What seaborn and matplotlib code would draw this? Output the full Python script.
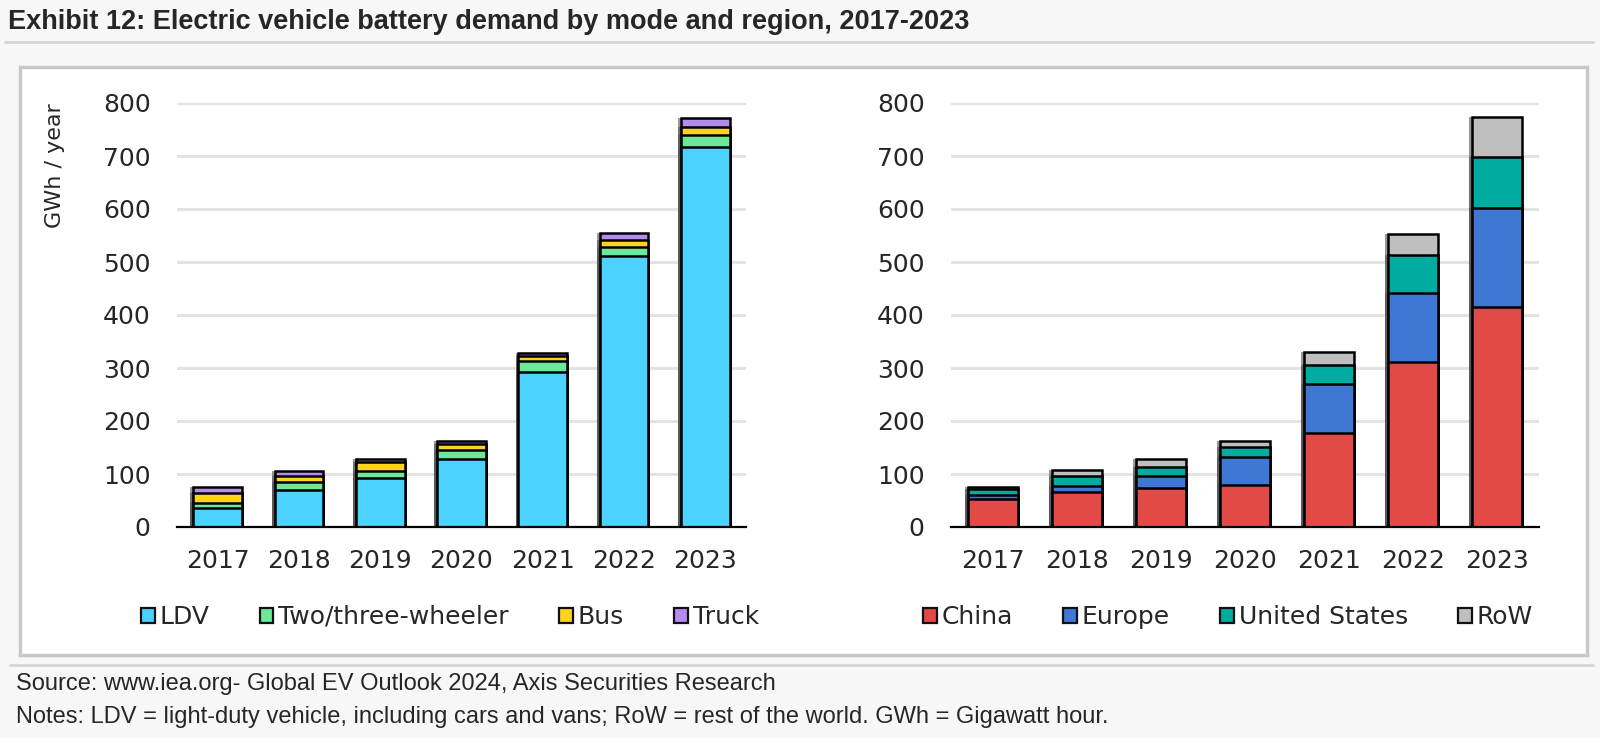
import numpy as np
import matplotlib.pyplot as plt
import matplotlib.patheffects as pe
import seaborn as sns
from matplotlib.patches import Patch, Rectangle
from matplotlib.lines import Line2D

# data (GWh / year)
years = ["2017", "2018", "2019", "2020", "2021", "2022", "2023"]

# by mode
ldv = [36, 70, 92, 128, 293, 512, 717]
two_three = [10, 14, 14, 17, 20, 17, 22]
bus = [18, 12, 17, 12, 10, 13, 16]
truck = [12, 10, 5, 5, 6, 12, 17]
mode_labels = ["LDV", "Two/three-wheeler", "Bus", "Truck"]
mode_colors = ["#4cd2fe", "#6de89a", "#ffd21e", "#b48cf0"]

# by region
china = [53, 66, 73, 80, 178, 311, 416]
europe = [8, 12, 24, 53, 92, 131, 185]
us = [10, 19, 17, 18, 36, 72, 98]
row = [5, 10, 15, 12, 24, 39, 74]
region_labels = ["China", "Europe", "United States", "RoW"]
region_colors = ["#e24a48", "#3e78d4", "#00ab9f", "#bfbfbf"]

sns.set_style("white")
plt.rcParams["font.family"] = ["DejaVu Sans"]

W, H = 1600, 738
fig = plt.figure(figsize=(W / 100, H / 100), dpi=100)
fig.patch.set_facecolor("#f7f7f7")


def fx(px):
    return px / W


def fy(py):
    return 1 - py / H


# white panel behind both charts
fig.add_artist(Rectangle((fx(20), fy(655)), fx(1587) - fx(20), fy(67) - fy(655),
                         transform=fig.transFigure, facecolor="white",
                         edgecolor="#c8c8c8", lw=2.5, zorder=-1))
fig.add_artist(Line2D([fx(5), fx(1593)], [fy(42), fy(42)], transform=fig.transFigure,
                      color="#d6d6d6", lw=2))
fig.add_artist(Line2D([fx(10), fx(1593)], [fy(665), fy(665)], transform=fig.transFigure,
                      color="#d6d6d6", lw=2))

ax1 = fig.add_axes([fx(177), fy(527), fx(746) - fx(177), fy(103) - fy(527)])
ax2 = fig.add_axes([fx(951), fy(527), fx(1539) - fx(951), fy(103) - fy(527)])


def stacked(ax, series, colors):
    cum = np.cumsum(np.array(series), axis=0)
    # draw the tallest cumulative layer first so lower segments sit on top
    for i in range(len(series) - 1, -1, -1):
        sns.barplot(x=years, y=cum[i], color=colors[i], saturation=1, width=0.6,
                    edgecolor="black", linewidth=1.8, errorbar=None, ax=ax)
    for p in ax.patches:
        p.set_path_effects([pe.SimplePatchShadow(offset=(-2, 0), shadow_rgbFace="#555555", alpha=0.6),
                            pe.Normal()])


def style(ax):
    ax.set_facecolor("white")
    ax.set_ylim(0, 800)
    ax.set_xlim(-0.5, 6.5)
    ax.set_yticks(range(0, 801, 100))
    ax.yaxis.grid(True, color="#e3e3e3", lw=2.2)
    ax.set_axisbelow(True)
    for s in ["left", "right", "top"]:
        ax.spines[s].set_visible(False)
    ax.spines["bottom"].set_color("black")
    ax.spines["bottom"].set_linewidth(1.6)
    ax.set_xticks(np.arange(-0.5, 7, 1), minor=True)
    ax.tick_params(axis="x", which="major", length=0, pad=16, labelsize=18)
    ax.tick_params(axis="x", which="minor", length=5, width=1.5, color="black", direction="out")
    ax.tick_params(axis="y", length=0, pad=19, labelsize=18)
    ax.set_xlabel("")
    ax.set_ylabel("")


stacked(ax1, [ldv, two_three, bus, truck], mode_colors)
stacked(ax2, [china, europe, us, row], region_colors)
style(ax1)
style(ax2)

fig.text(fx(55), fy(166), "GWh / year", rotation=90, ha="center", va="center", fontsize=16)


def legend(labels, colors, xc):
    handles = [Patch(facecolor=c, edgecolor="#111111", lw=1.6) for c in colors]
    fig.legend(handles, labels, loc="center", bbox_to_anchor=(xc, fy(617)), ncol=4,
               frameon=False, fontsize=18, handlelength=0.55, handleheight=0.55,
               handletextpad=0.2, columnspacing=2.0)


legend(mode_labels, mode_colors, fx(450))
legend(region_labels, region_colors, fx(1228))

fig.text(fx(8), fy(22), "Exhibit 12: Electric vehicle battery demand by mode and region, 2017-2023",
         fontsize=19.5, fontweight="bold", family="Liberation Sans", va="center", ha="left")
fig.text(fx(16), fy(684), "Source: www.iea.org- Global EV Outlook 2024, Axis Securities Research",
         fontsize=17, family="Liberation Sans", va="center", ha="left")
fig.text(fx(16), fy(717), "Notes: LDV = light-duty vehicle, including cars and vans; RoW = rest of the world. GWh = Gigawatt hour.",
         fontsize=17, family="Liberation Sans", va="center", ha="left")

fig.savefig("out.png", dpi=100, facecolor=fig.get_facecolor())
